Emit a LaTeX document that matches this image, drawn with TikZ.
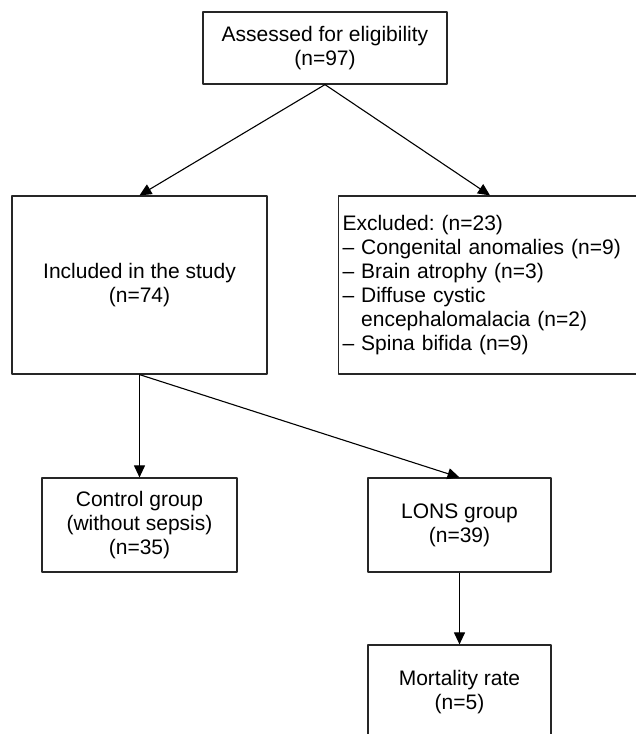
\documentclass[tikz,border=0pt]{standalone}
\usepackage{fontspec}
\setmainfont{Liberation Sans}
\usetikzlibrary{arrows.meta}
\frenchspacing

\begin{document}
\begin{tikzpicture}[x=1pt,y=-1pt,line join=round,
  box/.style={draw=black!85,line width=1.2pt,align=center,inner sep=4pt,font=\fontsize{21}{24}\selectfont},
  flow/.style={line width=1.1pt,-{Triangle[length=12pt,width=11pt]}}]
  \useasboundingbox (0,0) rectangle (636,734);
  \clip (0,0) rectangle (636,734);
  \node[box,minimum width=244,minimum height=72] (assess) at (325,48) {Assessed for eligibility\\(n=97)};
  \node[box,minimum width=255,minimum height=178] (incl) at (139.5,285) {Included in the study\\(n=74)};
  \node[box,text width=295,align=left,minimum height=178] (excl) at (490,285)
    {Excluded: (n=23)\\– Congenital anomalies (n=9)\\– Brain atrophy (n=3)\\– Diffuse cystic\\\phantom{– }encephalomalacia (n=2)\\– Spina bifida (n=9)};
  \node[box,minimum width=195,minimum height=94] (ctrl) at (139.5,525) {Control group\\(without sepsis)\\(n=35)};
  \node[box,minimum width=183,minimum height=94] (lons) at (459.5,525) {LONS group\\(n=39)};
  \node[box,minimum width=183,minimum height=94] (mort) at (459.5,692) {Mortality rate\\(n=5)};
  \draw[flow] (assess.south) -- (incl.north);
  \draw[flow] (assess.south) -- (excl.north);
  \draw[flow] (incl.south) -- (ctrl.north);
  \draw[flow] (incl.south) -- (lons.north);
  \draw[flow] (lons.south) -- (mort.north);
\end{tikzpicture}
\end{document}
